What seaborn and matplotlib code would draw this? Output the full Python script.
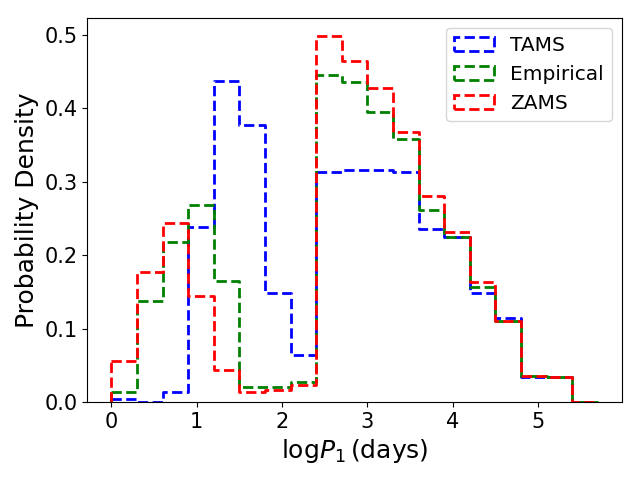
import numpy as np
import pandas as pd
import seaborn as sns
import matplotlib
matplotlib.use("Agg")
import matplotlib.pyplot as plt
from matplotlib.patches import Patch

# bin edges in log P1 (days)
bin_edges = [0.0, 0.3, 0.6, 0.9, 1.2, 1.5, 1.8, 2.1, 2.4, 2.7, 3.0,
             3.3, 3.6, 3.9, 4.2, 4.5, 4.8, 5.1, 5.4, 5.7]
bin_centers = [(a + b) / 2 for a, b in zip(bin_edges[:-1], bin_edges[1:])]

# probability density per bin
tams = [0.004, 0.0, 0.013, 0.238, 0.437, 0.377, 0.148, 0.064, 0.313, 0.316,
        0.316, 0.313, 0.235, 0.225, 0.148, 0.114, 0.034, 0.034, 0.0]
empirical = [0.013, 0.137, 0.218, 0.268, 0.165, 0.020, 0.020, 0.027, 0.445, 0.436,
             0.395, 0.358, 0.261, 0.225, 0.157, 0.110, 0.035, 0.034, 0.0]
zams = [0.056, 0.177, 0.244, 0.144, 0.043, 0.013, 0.017, 0.023, 0.498, 0.464,
        0.427, 0.367, 0.280, 0.231, 0.163, 0.110, 0.035, 0.034, 0.0]

labels = ["TAMS", "Empirical", "ZAMS"]
colors = ["blue", "green", "red"]

fig, ax = plt.subplots(figsize=(6.4, 4.8), dpi=100)

for vals, c in zip([tams, empirical, zams], colors):
    df = pd.DataFrame({"logP": bin_centers, "density": vals})
    sns.histplot(data=df, x="logP", weights="density", bins=bin_edges, element="step",
                 fill=False, color=c, linestyle="--", linewidth=2, ax=ax)
    # close the left edge down to zero like a step histogram
    ax.vlines(bin_edges[0], 0, vals[0], colors=c, linestyles="--", linewidth=2)

ax.set_ylim(bottom=0)
ax.set_xlabel(r"$\mathrm{log}P_1\,(\mathrm{days})$", fontsize=18)
ax.set_ylabel("Probability Density", fontsize=18)
ax.tick_params(labelsize=15)

handles = [Patch(facecolor="none", edgecolor=c, linestyle="--", linewidth=2, label=l)
           for l, c in zip(labels, colors)]
ax.legend(handles=handles, loc="upper right", fontsize=14.5)

plt.subplots_adjust(left=0.136, right=0.972, top=0.9625, bottom=0.1625)
plt.savefig("out.png", dpi=100)
